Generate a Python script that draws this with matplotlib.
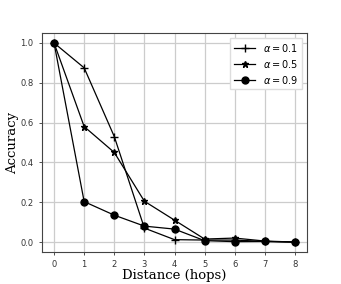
import matplotlib
matplotlib.use("Agg")
import matplotlib.pyplot as plt

hops = [0, 1, 2, 3, 4, 5, 6, 7, 8]
acc_a01 = [1.0, 0.875, 0.53, 0.07, 0.012, 0.01, 0.01, 0.003, 0.0]
acc_a05 = [1.0, 0.58, 0.45, 0.205, 0.11, 0.015, 0.02, 0.005, 0.0]
acc_a09 = [1.0, 0.203, 0.135, 0.08, 0.065, 0.007, 0.002, 0.003, 0.0]

fig = plt.figure(figsize=(3.41, 2.84), dpi=100)
ax = fig.add_axes([42 / 341, 1 - 252 / 284, 265 / 341, 219 / 284])

ax.plot(hops, acc_a01, color="black", marker="+", markersize=5.5, linewidth=0.9,
        label=r"$\alpha = 0.1$")
ax.plot(hops, acc_a05, color="black", marker="*", markersize=5, linewidth=0.9,
        label=r"$\alpha = 0.5$")
ax.plot(hops, acc_a09, color="black", marker="o", markersize=5, linewidth=0.9,
        label=r"$\alpha = 0.9$")

ax.set_xticks(hops)
ax.set_yticks([0.0, 0.2, 0.4, 0.6, 0.8, 1.0])
ax.tick_params(labelsize=6, length=2.5, width=0.6, colors="#333333")
ax.grid(color="#cccccc", linewidth=0.9)
ax.set_axisbelow(True)
for s in ax.spines.values():
    s.set_color("#444444")
    s.set_linewidth(0.8)

ax.set_xlabel("Distance (hops)", family="DejaVu Serif", fontsize=9.5, labelpad=0)
ax.set_ylabel("Accuracy", family="DejaVu Serif", fontsize=9.5, labelpad=1)
ax.legend(loc="upper right", fontsize=7, handlelength=2.2, borderpad=0.4,
          labelspacing=0.4, fancybox=False, framealpha=1, edgecolor="#dddddd")

fig.savefig("out.png", dpi=100)
